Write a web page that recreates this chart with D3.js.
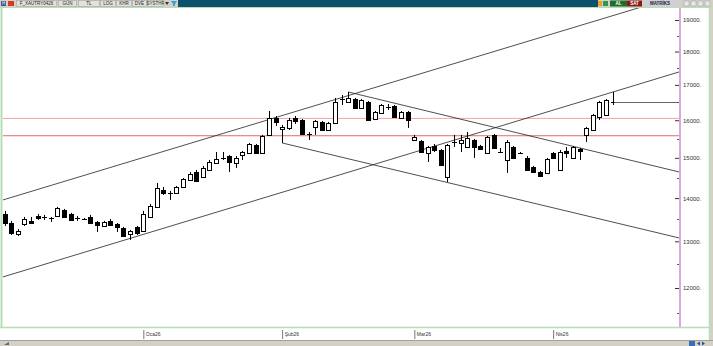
<!DOCTYPE html>
<html>
<head>
<meta charset="utf-8">
<script src="https://cdn.jsdelivr.net/npm/d3@7/dist/d3.min.js"></script>
<style>
  body { margin: 0; background: #fff; }
  svg { display: block; font-family: 'Liberation Sans', 'DejaVu Sans', sans-serif; }
</style>
</head>
<body>
<div class="canvas"></div>
<script>
// daily candles, dec 2025 -> apr 2026
const opens = [13625,13416,13166,13393,13462,13578,13560,13545,13578,13719,13625,13535,13510,13555,13439,13348,13462,13393,13302,13166,13325,
  13233,13555,13790,14197,14130,14125,14270,14442,14642,14517,14692,14870,14995,15049,14870,15075,15127,15336,15127,15601,
  16062,15762,15789,16062,16007,15632,15817,15953,15735,15926,16590,16509,16594,16339,16509,16034,16200,16370,16396,16062,16228,
  15467,15441,15127,15309,15204,14517,15410,15388,15283,15467,15309,15127,15601,15150,14946,15283,15125,14998,14768,14642,14617,
  15127,14692,15178,14998,15230,15601,15735,16089,16144,16505];
const highs = [13696,13462,13279,13555,13555,13625,13602,13555,13790,13743,13649,13578,13532,13602,13462,13462,13508,13416,13325,13256,13348,
  13696,13861,14368,14270,14173,14295,14492,14642,14692,14794,14946,15152,15152,15075,15049,15178,15388,15362,15601,16255,
  16117,15871,16062,16117,16034,15681,16007,15980,15953,16622,16708,16794,16622,16594,16537,16255,16452,16452,16424,16255,16255,
  15601,15467,15309,15362,15230,15362,15601,15601,15681,15494,15336,15574,15628,15257,15467,15309,15152,15049,14794,14667,14998,
  15152,15204,15283,15309,15257,15817,16172,16537,16594,16794];
const lows = [13348,13143,13121,13348,13393,13485,13485,13439,13555,13532,13462,13462,13485,13393,13211,13325,13348,13211,13098,13031,13143,
  13211,13532,13766,14077,13956,14101,14246,14418,14393,14492,14667,14844,14946,14642,14743,14946,15101,15101,15101,15574,
  15844,15388,15735,15898,15601,15467,15601,15708,15708,15898,16424,16480,16311,16311,15980,16007,16172,16283,16062,16034,15789,
  15441,15127,14895,15152,14794,14393,15283,15152,15257,14998,15204,15101,15230,15127,14617,14972,15101,14667,14617,14517,14592,
  14972,14667,14998,14972,14946,15414,15708,16007,16117,16424];
const closes = [13416,13188,13233,13508,13416,13532,13552,13540,13766,13555,13485,13530,13506,13416,13370,13439,13370,13325,13121,13233,13188,
  13625,13814,14246,14125,14122,14270,14467,14592,14418,14743,14895,14972,14990,14895,14998,15152,15362,15127,15574,16062,
  15953,15817,16007,15980,15628,15625,15980,15735,15926,16509,16597,16622,16339,16565,16007,16228,16424,16362,16089,16228,16007,
  15547,15152,15283,15204,14819,15336,15418,15467,15520,15283,15230,15547,15257,15155,15414,14998,15130,14692,14642,14542,14972,
  14998,15152,15127,15283,15178,15789,16144,16509,16565,16512];

// x axis: month labels at first candle of each month
const monthLabels = ['Oca26', 'Şub26', 'Mar26', 'Nis26'];
const monthStarts = [21, 42, 62, 83];

// y axis (log)
const yTicks = [12000, 13000, 14000, 15000, 16000, 17000, 18000, 19000];
const yMinorTicks = [11500, 12500, 13500, 14500, 15500, 16500, 17500, 18500];

// horizontal levels
const levels = [16050, 15580];
const levelColors = ['#f5a3a3', '#e26a6a'];

// trend lines: [index1, price1, index2, price2]
const trendLines = [
  [-0.23, 13956, 100, 19673],
  [-0.23, 12230, 102.04, 17380],
  [52, 16794, 102.04, 14642],
  [42, 15388, 102.04, 13076]
];

const width = 713;
const height = 346;
const plot = { left: 3, right: 679, top: 8, bottom: 327 };

const svg = d3.select('.canvas')
  .append('svg')
  .attr('width', width)
  .attr('height', height);

// scales
const x = d3.scaleLinear().domain([-0.227, 102.04]).range([plot.left, plot.right]);
const y = d3.scaleLog().domain([12000, 19000]).range([288, 20]);

// backgrounds
svg.append('rect').attr('width', width).attr('height', height).attr('fill', '#ffffff');
svg.append('rect').attr('x', 710).attr('y', 0).attr('width', 3).attr('height', height).attr('fill', '#d4d0c8');
svg.append('rect').attr('x', 0).attr('y', 340).attr('width', width).attr('height', 6).attr('fill', '#d4d0c8');
svg.append('line').attr('x1', 0).attr('x2', width).attr('y1', 340.5).attr('y2', 340.5).attr('stroke', '#a0a0a0');

svg.append('clipPath').attr('id', 'plotclip')
  .append('rect')
  .attr('x', plot.left).attr('y', plot.top)
  .attr('width', plot.right - plot.left).attr('height', plot.bottom - plot.top);

const graph = svg.append('g').attr('clip-path', 'url(#plotclip)');

// level lines
graph.selectAll('line.level')
  .data(levels)
  .enter().append('line')
  .attr('class', 'level')
  .attr('x1', plot.left).attr('x2', plot.right)
  .attr('y1', d => y(d)).attr('y2', d => y(d))
  .attr('stroke', (d, i) => levelColors[i])
  .attr('stroke-width', 1);

// trend lines
graph.selectAll('line.trend')
  .data(trendLines)
  .enter().append('line')
  .attr('class', 'trend')
  .attr('x1', d => x(d[0])).attr('y1', d => y(d[1]))
  .attr('x2', d => x(d[2])).attr('y2', d => y(d[3]))
  .attr('stroke', '#222')
  .attr('stroke-width', 0.8);

const candles = opens.map((o, i) => ({ i, o, h: highs[i], l: lows[i], c: closes[i] }));

// wicks
graph.selectAll('line.wick')
  .data(candles)
  .enter().append('line')
  .attr('class', 'wick')
  .attr('x1', d => Math.round(x(d.i)) + 0.5).attr('x2', d => Math.round(x(d.i)) + 0.5)
  .attr('y1', d => y(d.h)).attr('y2', d => y(d.l))
  .attr('stroke', '#000')
  .attr('stroke-width', 1);

// bodies
const bodyH = d => Math.abs(y(d.o) - y(d.c));
graph.selectAll('rect.body')
  .data(candles.filter(d => bodyH(d) >= 1.5))
  .enter().append('rect')
  .attr('class', 'body')
  .attr('x', d => Math.round(x(d.i)) - 1.5)
  .attr('y', d => Math.round(y(Math.max(d.o, d.c))) + 0.5)
  .attr('width', 4)
  .attr('height', d => Math.max(1, Math.round(bodyH(d))))
  .attr('fill', d => d.c >= d.o ? '#fff' : '#000')
  .attr('stroke', '#000')
  .attr('stroke-width', 1);

// doji
graph.selectAll('line.doji')
  .data(candles.filter(d => bodyH(d) < 1.5))
  .enter().append('line')
  .attr('class', 'doji')
  .attr('x1', d => Math.round(x(d.i)) - 2).attr('x2', d => Math.round(x(d.i)) + 3)
  .attr('y1', d => Math.round(y(d.c)) + 0.5).attr('y2', d => Math.round(y(d.c)) + 0.5)
  .attr('stroke', '#000');

// last price line
const last = candles[candles.length - 1];
graph.append('line')
  .attr('x1', x(last.i) + 2).attr('x2', plot.right)
  .attr('y1', Math.round(y(last.c)) + 0.5).attr('y2', Math.round(y(last.c)) + 0.5)
  .attr('stroke', '#666');

// frame lines
svg.append('line').attr('x1', 1.5).attr('x2', 1.5).attr('y1', plot.top).attr('y2', plot.bottom)
  .attr('stroke', '#b5e0b5').attr('stroke-width', 2);
svg.append('line').attr('x1', 0).attr('x2', 709).attr('y1', plot.bottom + 0.5).attr('y2', plot.bottom + 0.5)
  .attr('stroke', '#b5e0b5').attr('stroke-width', 1.5);
svg.append('line').attr('x1', 709.5).attr('x2', 709.5).attr('y1', plot.top).attr('y2', 340)
  .attr('stroke', '#b5e0b5').attr('stroke-width', 1.5);
svg.append('line').attr('x1', 680).attr('x2', 680).attr('y1', plot.top).attr('y2', plot.bottom)
  .attr('stroke', '#d9a9d9').attr('stroke-width', 2);

// y axis
const yAxis = d3.axisLeft(y)
  .tickValues(yTicks)
  .tickSize(4)
  .tickFormat(d => d + '.');

const yAxisGroup = svg.append('g')
  .attr('transform', 'translate(679, 0)')
  .call(yAxis);
yAxisGroup.select('.domain').remove();
yAxisGroup.selectAll('line').attr('stroke', '#333');
yAxisGroup.selectAll('text')
  .attr('x', 4)
  .attr('text-anchor', 'start')
  .attr('fill', '#333')
  .attr('font-size', 6);

svg.append('g').selectAll('line')
  .data(yMinorTicks)
  .enter().append('line')
  .attr('x1', 677).attr('x2', 679)
  .attr('y1', d => Math.round(y(d)) + 0.5).attr('y2', d => Math.round(y(d)) + 0.5)
  .attr('stroke', '#555');

// x axis
const xAxis = d3.axisBottom(x)
  .tickValues(monthStarts)
  .tickSize(9)
  .tickFormat((d, i) => monthLabels[i]);

const xAxisGroup = svg.append('g')
  .attr('transform', 'translate(0, 330)')
  .call(xAxis);
xAxisGroup.select('.domain').remove();
xAxisGroup.selectAll('line').attr('stroke', '#777');
xAxisGroup.selectAll('text')
  .attr('x', 2)
  .attr('y', 2)
  .attr('text-anchor', 'start')
  .attr('fill', '#333')
  .attr('font-size', 5);

// toolbar
const bar = svg.append('g');
bar.append('rect').attr('width', width).attr('height', 7).attr('fill', '#d4d0c8');
bar.append('rect').attr('x', 178).attr('width', 420).attr('height', 7).attr('fill', '#0b506d');
bar.append('line').attr('x1', 0).attr('x2', width).attr('y1', 7.5).attr('y2', 7.5).attr('stroke', '#b5e0b5');

const leftItems = [
  ['F_XAUTRY0426', 16, 40], ['GÜN', 58, 18], ['TL', 78, 21], ['LOG', 100, 15],
  ['KHR', 116, 15], ['DVE', 132, 14], ['SYSTHF', 147, 16]
];
leftItems.forEach(([t, bx, bw]) => {
  bar.append('rect').attr('x', bx + 0.5).attr('y', 0.5).attr('width', bw).attr('height', 6)
    .attr('fill', '#e4e1da').attr('stroke', '#9a9a9a').attr('stroke-width', 0.5);
  bar.append('text').attr('x', bx + bw / 2 + 0.5).attr('y', 5.3).attr('text-anchor', 'middle')
    .attr('font-size', 4.5).attr('fill', '#222').text(t);
});
bar.append('rect').attr('x', 1).attr('y', 1).attr('width', 5).attr('height', 5).attr('fill', '#39518f');
bar.append('text').attr('x', 3.5).attr('y', 5.3).attr('text-anchor', 'middle').attr('font-size', 4.5).attr('fill', '#fff').text('H');
bar.append('rect').attr('x', 8).attr('y', 1).attr('width', 6).attr('height', 5).attr('fill', '#d23a2a');
bar.append('path').attr('d', 'M165,2 L169,2 L167,5 Z').attr('fill', '#333');
bar.append('path').attr('d', 'M171,1 L177,1 L175,4 L175,6 L173,6 L173,4 Z').attr('fill', '#3aa0d8');

// right toolbar buttons
bar.append('rect').attr('x', 598).attr('y', 1).attr('width', 4).attr('height', 5).attr('fill', '#f0a020');
bar.append('rect').attr('x', 603).attr('y', 1).attr('width', 5).attr('height', 5).attr('fill', '#2f9a4a');
const rightItems = [['AL', 610, 17, '#1d6e2b', '#fff'], ['SAT', 627, 15, '#8a1a1a', '#fff'], ['MATRİKS', 643, 34, '#cfcfd8', '#223']];
rightItems.forEach(([t, bx, bw, fill, color]) => {
  bar.append('rect').attr('x', bx).attr('y', 0.5).attr('width', bw).attr('height', 6).attr('fill', fill);
  bar.append('text').attr('x', bx + bw / 2).attr('y', 5.3).attr('text-anchor', 'middle')
    .attr('font-size', 4.5).attr('font-weight', 'bold').attr('fill', color).text(t);
});
[684, 691, 698, 705].forEach(bx => {
  bar.append('rect').attr('x', bx).attr('y', 1).attr('width', 5).attr('height', 5)
    .attr('fill', '#e8e8e8').attr('stroke', '#999').attr('stroke-width', 0.5);
});

// bottom bar icons
svg.append('rect').attr('x', 689).attr('y', 341).attr('width', 6).attr('height', 5).attr('fill', '#3a6fb8');
svg.append('path').attr('d', 'M697,343.5 L700,341.5 L700,345.5 Z M705,343.5 L702,341.5 L702,345.5 Z').attr('fill', '#2050a0');
svg.append('path').attr('d', 'M4,345 L9,345 L9,342 Z').attr('fill', '#666');
</script>
</body>
</html>
